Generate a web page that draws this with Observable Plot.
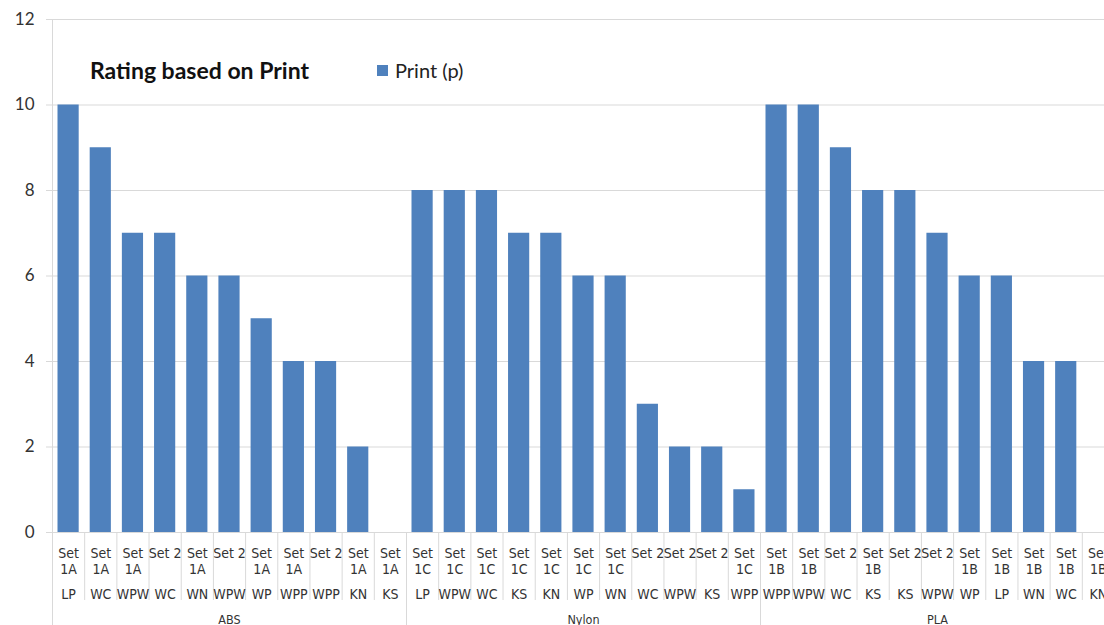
<!DOCTYPE html>
<html><head><meta charset="utf-8">
<script src="https://cdn.jsdelivr.net/npm/d3@7"></script>
<script src="https://cdn.jsdelivr.net/npm/@observablehq/plot@0.6"></script>
<style>
html,body{margin:0;padding:0;overflow:hidden;background:#fff;}
#wrap{position:relative;width:1104px;height:625px;overflow:hidden;}
#chart svg{max-width:none !important;}
#title{position:absolute;left:90px;top:56px;font:bold 23px Lato, sans-serif;color:#111;white-space:nowrap;}
#legend{position:absolute;left:377px;top:58px;font:20px Lato, sans-serif;color:#222;white-space:nowrap;display:flex;align-items:center;}
#legend span.sw{display:inline-block;width:11px;height:11px;background:#4F81BD;margin-right:7px;}
</style>
</head><body>
<div id="wrap">
<div id="chart"></div>
<div id="title">Rating based on Print</div>
<div id="legend"><span class="sw"></span><span>Print (p)</span></div>
</div>
<script>
const materials = ["ABS","ABS","ABS","ABS","ABS","ABS","ABS","ABS","ABS","ABS","ABS",
  "Nylon","Nylon","Nylon","Nylon","Nylon","Nylon","Nylon","Nylon","Nylon","Nylon","Nylon",
  "PLA","PLA","PLA","PLA","PLA","PLA","PLA","PLA","PLA","PLA","PLA"];
const sets = ["Set 1A","Set 1A","Set 1A","Set 2","Set 1A","Set 2","Set 1A","Set 1A","Set 2","Set 1A","Set 1A",
  "Set 1C","Set 1C","Set 1C","Set 1C","Set 1C","Set 1C","Set 1C","Set 2","Set 2","Set 2","Set 1C",
  "Set 1B","Set 1B","Set 2","Set 1B","Set 2","Set 2","Set 1B","Set 1B","Set 1B","Set 1B","Set 1B"];
const types = ["LP","WC","WPW","WC","WN","WPW","WP","WPP","WPP","KN","KS",
  "LP","WPW","WC","KS","KN","WP","WN","WC","WPW","KS","WPP",
  "WPP","WPW","WC","KS","KS","WPW","WP","LP","WN","WC","KN"];
const printValues = [10,9,7,7,6,6,5,4,4,2,0,
  8,8,8,7,7,6,6,3,2,2,1,
  10,10,9,8,8,7,6,6,4,4,0];
const yTicks = [0,2,4,6,8,10,12];

const data = printValues.map((v,i)=>({i, v, set: sets[i], type: types[i], mat: materials[i]}));
const n = data.length;
const groups = [];
materials.forEach((m,i)=>{
  if (!groups.length || groups[groups.length-1].mat !== m) groups.push({mat:m, start:i, count:0});
  groups[groups.length-1].count++;
});
const groupEdges = groups.map(g=>g.start);
const catEdges = d3.range(1, n+1).filter(e=>!groupEdges.includes(e));
const wrapSet = s => s.length > 5 ? s.replace(" ", "\n") : s;

const W = 1120;
const labelFont = "'Liberation Sans Narrow', 'DejaVu Sans Condensed', Lato, sans-serif";
const chart = Plot.plot({
  width: W, height: 625,
  marginLeft: 52, marginRight: W - 1114, marginTop: 19, marginBottom: 93,
  x: {domain: [0, n], axis: null},
  y: {domain: [0, 12], axis: null},
  style: {fontFamily: "Lato, sans-serif", background: "white", overflow: "visible", maxWidth: "none"},
  marks: [
    Plot.ruleY(yTicks, {stroke: "#d9d9d9", strokeWidth: 1}),
    Plot.axisY({ticks: yTicks, label: null, tickSize: 6, tickPadding: 12, fontSize: 17, stroke: "#d9d9d9", fill: "#333"}),
    Plot.ruleX([0], {y1: 12, y2: 0, stroke: "#d9d9d9"}),
    Plot.ruleX(groupEdges, {y1: 0, y2: -2.3, stroke: "#d9d9d9"}),
    Plot.ruleX(catEdges, {y1: 0, y2: -1.59, stroke: "#d9d9d9"}),
    Plot.rectY(data, {x1: "i", x2: d => d.i + 1, y: "v", fill: "#4F81BD", insetLeft: 5.5, insetRight: 5.5}),
    Plot.text(data, {x: d => d.i + 0.5, y: 0, text: d => wrapSet(d.set), dy: 13.5, lineAnchor: "top", lineHeight: 1.17, fontSize: 14, fontFamily: labelFont, fill: "#333"}),
    Plot.text(data, {x: d => d.i + 0.5, y: 0, text: "type", dy: 62, lineAnchor: "middle", fontSize: 14, fontFamily: labelFont, fill: "#333"}),
    Plot.text(groups, {x: g => g.start + g.count / 2, y: 0, text: "mat", dy: 87.5, lineAnchor: "middle", fontSize: 12.5, fontFamily: labelFont, fill: "#333"})
  ]
});
document.getElementById("chart").appendChild(chart);
</script>
</body></html>
